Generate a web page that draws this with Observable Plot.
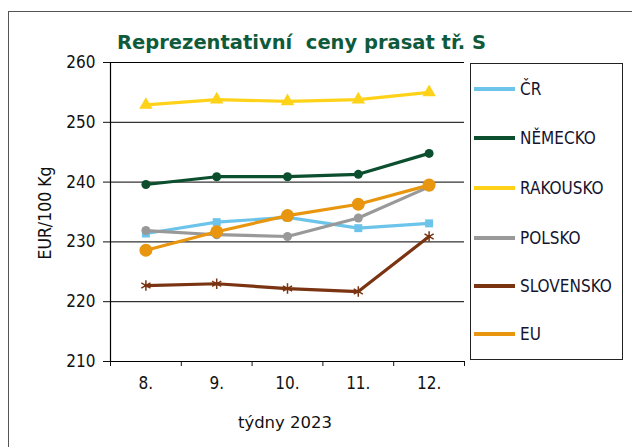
<!DOCTYPE html>
<html><head><meta charset="utf-8">
<script src="https://cdn.jsdelivr.net/npm/d3@7"></script>
<script src="https://cdn.jsdelivr.net/npm/@observablehq/plot@0.6"></script>
<style>
html,body{margin:0;padding:0;background:#fff;}
#wrap{position:relative;width:632px;height:447px;overflow:hidden;font-family:"DejaVu Sans Condensed","DejaVu Sans",sans-serif;font-stretch:condensed;}
#frame{position:absolute;left:8px;top:11px;width:640px;height:460px;border:1px solid #555;box-sizing:border-box;}
#title{position:absolute;left:117px;top:31px;font-family:"DejaVu Sans",sans-serif;font-stretch:normal;font-weight:bold;font-size:19.5px;color:#105a3c;white-space:pre;}
#ylab{position:absolute;left:45px;top:213px;transform:translate(-50%,-50%) rotate(-90deg);font-size:17.5px;color:#111;white-space:nowrap;}
#xlab{position:absolute;left:285px;top:422px;transform:translate(-50%,-50%);font-family:"DejaVu Sans",sans-serif;font-stretch:normal;font-size:16.5px;color:#111;white-space:nowrap;}
#legend{position:absolute;left:470px;top:63px;width:153px;height:297px;border:1px solid #222;box-sizing:border-box;}
.li{position:absolute;left:0;height:20px;display:flex;align-items:center;font-size:17px;color:#151530;}
.sw{width:41px;height:4px;margin-left:3px;margin-right:5px;}
svg{position:absolute;left:0;top:0;}
</style></head>
<body>
<div id="wrap">
  <div id="frame"></div>
  <div id="title">Reprezentativní  ceny prasat tř. S</div>
  <div id="ylab">EUR/100 Kg</div>
  <div id="xlab">týdny 2023</div>
  <div id="legend"></div>
</div>
<script>
const weeks = [8, 9, 10, 11, 12];
const seriesNames = ["ČR", "NĚMECKO", "RAKOUSKO", "POLSKO", "SLOVENSKO", "EU"];
const cr        = [231.4, 233.3, 234.1, 232.3, 233.1];
const nemecko   = [239.6, 240.9, 240.9, 241.3, 244.8];
const rakousko  = [252.9, 253.8, 253.5, 253.8, 255.0];
const polsko    = [231.9, 231.2, 230.9, 234.0, 239.2];
const slovensko = [222.7, 223.0, 222.2, 221.7, 230.9];
const eu        = [228.6, 231.7, 234.4, 236.3, 239.5];
const yTicks = [210, 220, 230, 240, 250, 260];

const values = [cr, nemecko, rakousko, polsko, slovensko, eu];
const colors = ["#6cc4ea", "#0c4f2f", "#ffd21a", "#999999", "#7a3412", "#e8950f"];
const symbols = ["square", "circle", "triangle", "circle", "asterisk", "circle"];
const radii = [4.5, 4.5, 5, 4.5, 5, 6.5];

const marks = [
  Plot.gridY({ticks: yTicks.slice(1), stroke: "#000", strokeOpacity: 1, strokeWidth: 1}),
  Plot.ruleY([210], {stroke: "#000", strokeWidth: 1.2}),
  Plot.ruleX([7.5], {stroke: "#000", strokeWidth: 1.2}),
  Plot.axisY({ticks: yTicks, tickSize: 7, tickPadding: 8, fontSize: 17, label: null, tickFormat: d => d}),
  Plot.axisX({ticks: [7.5, 8.5, 9.5, 10.5, 11.5, 12.5], tickSize: 5, tickFormat: () => "", label: null}),
  Plot.axisX({ticks: weeks, tickSize: 0, tickPadding: 15, fontSize: 17, tickFormat: d => d + ".", label: null})
];
values.forEach((vals, i) => {
  const data = weeks.map((w, j) => ({week: w, value: vals[j]}));
  marks.push(Plot.line(data, {x: "week", y: "value", stroke: colors[i], strokeWidth: 3.2}));
  if (symbols[i] === "asterisk") {
    marks.push(Plot.dot(data, {x: "week", y: "value", symbol: "asterisk", stroke: colors[i], strokeWidth: 1.5, r: radii[i]}));
  } else {
    marks.push(Plot.dot(data, {x: "week", y: "value", symbol: symbols[i], fill: colors[i], stroke: "none", r: radii[i]}));
  }
});

const chart = Plot.plot({
  width: 632, height: 447,
  marginLeft: 110, marginRight: 168, marginTop: 62, marginBottom: 86,
  style: {fontFamily: "'DejaVu Sans Condensed', 'DejaVu Sans', sans-serif", fontStretch: "condensed", color: "#111", background: "transparent", overflow: "visible"},
  x: {domain: [7.5, 12.5]},
  y: {domain: [210, 260]},
  marks
});
document.getElementById("wrap").appendChild(chart);

const legend = document.getElementById("legend");
const legendY = [15, 64, 114, 164, 212, 260];
seriesNames.forEach((name, i) => {
  const row = document.createElement("div");
  row.className = "li";
  row.style.top = legendY[i] + "px";
  const sw = document.createElement("div");
  sw.className = "sw";
  sw.style.background = colors[i];
  row.appendChild(sw);
  row.appendChild(document.createTextNode(name));
  legend.appendChild(row);
});
</script>
</body></html>
